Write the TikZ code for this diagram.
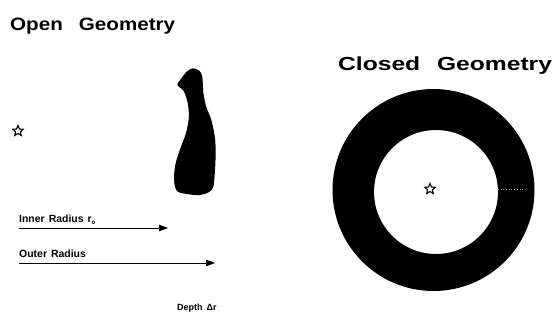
\documentclass[tikz,border=0pt]{standalone}
\usepackage{fontspec}
\setmainfont{Liberation Sans}
\usetikzlibrary{arrows.meta,shapes.geometric}
\begin{document}
\begin{tikzpicture}[x=1bp,y=-1bp,
  title/.style={inner sep=0pt, anchor=base west},
  lbl/.style={font=\bfseries\fontsize{10.5}{12}\selectfont, inner sep=0pt, anchor=base west},
  radarrow/.style={line width=0.7bp, -{Triangle[length=9bp,width=6.5bp]}},
  starmark/.style={star, star points=5, star point ratio=2.2, draw=black, line width=1.1bp, minimum size=11bp, inner sep=0pt}]
\useasboundingbox (0,0) rectangle (554,320);
\fill[white] (0,0) rectangle (554,320);
% titles
\node[title, font=\bfseries\fontsize{18}{21}\selectfont] (open) at (10,30) {\scalebox{1.15}[1]{Open\hspace{14pt}Geometry}};
\node[title, font=\bfseries\fontsize{19}{22}\selectfont] (closed) at (338,70) {\scalebox{1.3}[1]{Closed\hspace{13pt}Geometry}};
% open geometry
\node[starmark] (s1) at (18,131) {};
\fill plot[smooth cycle, tension=0.55] coordinates {(177.3,85) (180.7,79.3) (186.7,71.7) (192.7,68.3) (199.3,70.7) (202.3,76.7) (203.3,92) (206,106) (211,119) (214.5,135) (215.7,150) (215,170) (213.3,186.7) (209,192) (200,195) (186.7,194) (177,191) (174,180) (175.5,164) (180.5,148) (186,133) (188.8,117) (187.5,102) (183.3,90.5)};
\node[lbl] (inner) at (19,222) {Inner\hspace{4pt}Radius\hspace{4pt}r\raisebox{-2pt}{\fontsize{6}{6}\selectfont o}};
\coordinate (inS) at (19,228);
\coordinate (inE) at (168,228);
\draw[radarrow] (inS) -- (inE);
\node[lbl] (outer) at (19,257) {Outer\hspace{4pt}Radius};
\coordinate (outS) at (19,263);
\coordinate (outE) at (215,263);
\draw[radarrow] (outS) -- (outE);
\node[lbl, font=\bfseries\fontsize{9}{11}\selectfont] (depth) at (177,310) {Depth\hspace{4pt}Δr};
% closed geometry
\fill[even odd rule] (433.5,190) circle[radius=101bp] (436,192) circle[radius=62bp];
\node[starmark] (s2) at (430,189) {};
\coordinate (dA) at (498,189);
\coordinate (dB) at (523,189);
\draw[gray!70, dotted, line width=0.7bp] (dA) -- (dB);
\end{tikzpicture}
\end{document}
